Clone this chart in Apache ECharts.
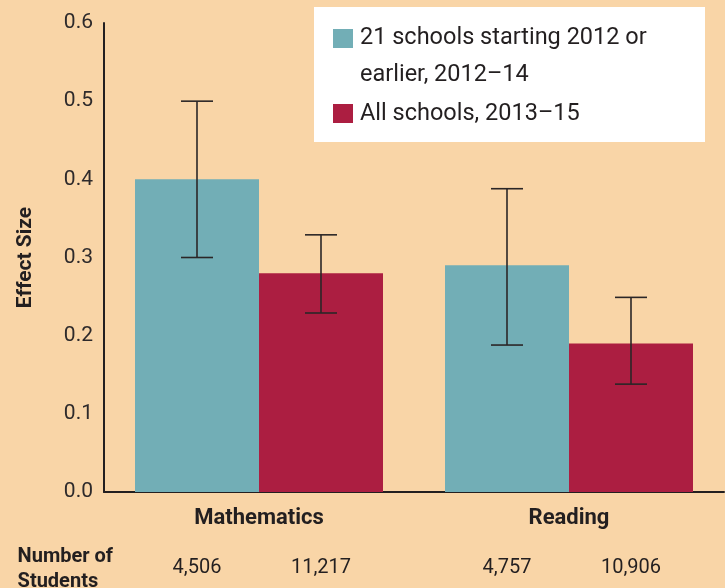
<!DOCTYPE html>
<html>
<head>
<meta charset="utf-8">
<script src="https://cdn.jsdelivr.net/npm/echarts@6/dist/echarts.min.js"></script>
<style>
html,body{margin:0;padding:0;background:#f9d5a7;}
#chart{width:725px;height:588px;}
</style>
</head>
<body>
<div id="chart"></div>
<script>
var categories = ['Mathematics', 'Reading'];
var seriesNames = ['21 schools starting 2012 or\nearlier, 2012\u201314', 'All schools, 2013\u201315'];
var early = [0.40, 0.29];
var earlyLow = [0.30, 0.188];
var earlyHigh = [0.50, 0.388];
var all = [0.28, 0.19];
var allLow = [0.229, 0.138];
var allHigh = [0.329, 0.249];
var earlyStudents = ['4,506', '4,757'];
var allStudents = ['11,217', '10,906'];
var yTicks = [0, 0.1, 0.2, 0.3, 0.4, 0.5, 0.6];

var colors = ['#72aeb6', '#ac1e41'];
var ink = '#231f20';
var font = 'Roboto, "DejaVu Sans", sans-serif';

function errData(low, high) {
  return low.map(function (l, i) { return [i, l, high[i]]; });
}

function errRender(side) {
  return function (params, api) {
    var c = api.value(0);
    var lo = api.coord([c, api.value(1)]);
    var hi = api.coord([c, api.value(2)]);
    var band = api.size([1, 0])[0];
    var x = lo[0] + side * band * 0.2;
    var cap = 16;
    var style = { stroke: '#2b2627', lineWidth: 1.6 };
    return {
      type: 'group',
      children: [
        { type: 'line', shape: { x1: x, y1: hi[1], x2: x, y2: lo[1] }, style: style },
        { type: 'line', shape: { x1: x - cap, y1: hi[1], x2: x + cap, y2: hi[1] }, style: style },
        { type: 'line', shape: { x1: x - cap, y1: lo[1], x2: x + cap, y2: lo[1] }, style: style }
      ]
    };
  };
}

function studentLabel(arr) {
  return {
    show: true,
    position: 'bottom',
    distance: 66,
    color: ink,
    fontFamily: font,
    fontSize: 20,
    formatter: function (p) { return arr[p.dataIndex]; }
  };
}

var chart = echarts.init(document.getElementById('chart'), null, { renderer: 'canvas' });
chart.setOption({
  backgroundColor: '#f9d5a7',
  animation: false,
  grid: { left: 104, right: 1, top: 23, bottom: 96 },
  xAxis: {
    type: 'category',
    data: categories,
    axisLine: { lineStyle: { color: ink, width: 2 } },
    axisTick: { show: false },
    axisLabel: { color: ink, fontFamily: font, fontSize: 22, fontWeight: 'bold', margin: 15 }
  },
  yAxis: {
    type: 'value',
    min: yTicks[0],
    max: yTicks[yTicks.length - 1],
    interval: 0.1,
    name: 'Effect Size',
    nameLocation: 'middle',
    nameGap: 68,
    nameTextStyle: { color: ink, fontFamily: font, fontSize: 21, fontWeight: 'bold' },
    axisLine: { show: true, lineStyle: { color: ink, width: 2 } },
    axisTick: { show: false },
    splitLine: { show: false },
    axisLabel: {
      color: '#2e2a2b', fontFamily: font, fontSize: 21, margin: 11,
      padding: [0, 0, 9, 0],
      formatter: function (v) { return v.toFixed(1); }
    }
  },
  series: [
    { name: seriesNames[0], type: 'bar', data: early, barWidth: '40%', barGap: '0%',
      itemStyle: { color: colors[0] }, label: studentLabel(earlyStudents) },
    { name: seriesNames[1], type: 'bar', data: all, barWidth: '40%', barGap: '0%',
      itemStyle: { color: colors[1] }, label: studentLabel(allStudents) },
    { type: 'custom', data: errData(earlyLow, earlyHigh), renderItem: errRender(-1), z: 5 },
    { type: 'custom', data: errData(allLow, allHigh), renderItem: errRender(1), z: 5 }
  ],
  graphic: [
    { type: 'rect', left: 314, top: 7, shape: { width: 391, height: 135 }, style: { fill: '#ffffff' } },
    { type: 'rect', left: 333, top: 29, shape: { width: 20, height: 19 }, style: { fill: colors[0] } },
    { type: 'rect', left: 333, top: 104, shape: { width: 20, height: 19 }, style: { fill: colors[1] } },
    { type: 'text', left: 360, top: 20, style: { text: seriesNames[0], fill: ink, font: '23.5px ' + font, lineHeight: 37 } },
    { type: 'text', left: 360, top: 102, style: { text: seriesNames[1], fill: ink, font: '23.5px ' + font } },
    { type: 'text', right: 612, top: 544, style: { text: 'Number of\nStudents', fill: ink, font: 'bold 20px ' + font, lineHeight: 25, align: 'right' } }
  ]
});
</script>
</body>
</html>
